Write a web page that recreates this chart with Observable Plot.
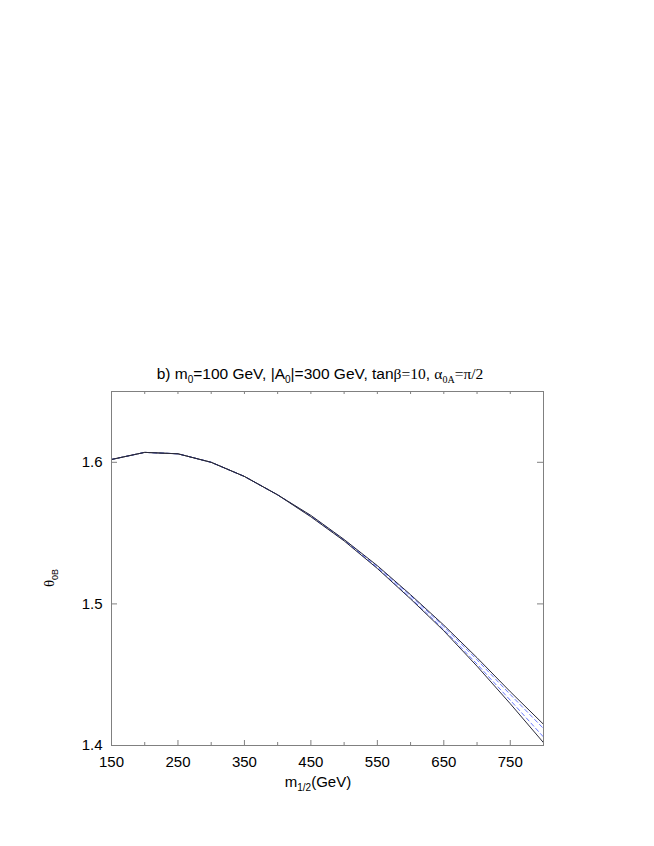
<!DOCTYPE html>
<html><head><meta charset="utf-8">
<script src="https://cdn.jsdelivr.net/npm/d3@7"></script>
<script src="https://cdn.jsdelivr.net/npm/@observablehq/plot@0.6"></script>
<style>body{margin:0;background:#fff;} svg{display:block}</style>
</head><body><div id="chart"></div>
<script>
const m12 = [150,200,250,300,350,400,450,500,550,600,650,700,750,800];
const solidUpper  = [1.602,1.607,1.606,1.600,1.590,1.577,1.5625,1.5455,1.5270,1.5065,1.4850,1.4620,1.4380,1.4150];
const dashedUpper = [1.602,1.607,1.606,1.600,1.590,1.577,1.5622,1.5452,1.5265,1.5058,1.4840,1.4605,1.4360,1.4120];
const dashedLower = [1.602,1.607,1.606,1.600,1.590,1.577,1.5618,1.5448,1.5255,1.5042,1.4820,1.4575,1.4320,1.4060];
const solidLower  = [1.602,1.607,1.606,1.600,1.590,1.577,1.5615,1.5445,1.5250,1.5035,1.4810,1.4560,1.4295,1.4020];
const xMajor = [150,250,350,450,550,650,750];
const xMinor = [200,300,400,500,600,700];
const yMajor = [1.4,1.5,1.6];

const W = 654, H = 846;
const mL = 111, mR = 111, mT = 391, mB = 846 - 745;
const fw = W - mL - mR, fh = H - mT - mB;

const rows = s => m12.map((x, i) => ({x, y: s[i]}));
const font = "Liberation Sans, Arial, Helvetica, sans-serif";

const chart = Plot.plot({
  width: W, height: H,
  marginLeft: mL, marginRight: mR, marginTop: mT, marginBottom: mB,
  style: {fontFamily: font, fontSize: "15px", background: "#fff", color: "#000"},
  x: {domain: [150, 800]},
  y: {domain: [1.4, 1.65]},
  marks: [
    Plot.axisX({ticks: xMajor, tickSize: 0, tickPadding: 11, label: null, fontSize: 15}),
    Plot.axisY({ticks: yMajor, tickSize: 0, tickPadding: 9, label: null, fontSize: 15, tickFormat: d3.format(".1f")}),
    // inward ticks
    Plot.ruleX(xMajor, {stroke: "#808080", insetTop: fh - 5}),
    Plot.ruleX(xMinor, {stroke: "#808080", insetTop: fh - 3}),
    Plot.ruleX(xMajor.concat(xMinor), {stroke: "#808080", insetBottom: fh - 3}),
    Plot.ruleY(yMajor, {stroke: "#808080", insetRight: fw - 6}),
    Plot.ruleY(yMajor, {stroke: "#808080", insetLeft: fw - 6}),
    Plot.line(rows(dashedUpper), {x: "x", y: "y", stroke: "#6b7bff", strokeWidth: 1, strokeDasharray: "4,3"}),
    Plot.line(rows(dashedLower), {x: "x", y: "y", stroke: "#6b7bff", strokeWidth: 1, strokeDasharray: "4,3"}),
    Plot.line(rows(solidUpper), {x: "x", y: "y", stroke: "#2a2a3a", strokeWidth: 1}),
    Plot.line(rows(solidLower), {x: "x", y: "y", stroke: "#2a2a3a", strokeWidth: 1}),
    Plot.frame({stroke: "#808080"})
  ]
});

const svg = d3.select(chart);
const serif = "Liberation Serif, Times New Roman, serif";

// Title
const t = svg.append("text").attr("x", 320).attr("y", 379).attr("text-anchor", "middle")
  .style("font-family", font).style("font-size", "15.5px").attr("fill", "#000");
const seg = (txt, opts = {}) => {
  const ts = t.append("tspan").text(txt);
  if (opts.sub) ts.attr("font-size", "10px").attr("dy", 4);
  if (opts.up) ts.attr("dy", -4);
  if (opts.serif) ts.style("font-family", serif);
  return ts;
};
seg("b) m");
seg("0", {sub: true});
seg("=100 GeV, |A", {up: true});
seg("0", {sub: true});
seg("|=300 GeV, tan", {up: true});
seg("β=10", {serif: true});
seg(", ");
seg("α", {serif: true});
seg("0A", {sub: true, serif: true});
seg("=π/2", {up: true, serif: true});

// X label
const xl = svg.append("text").attr("x", 318).attr("y", 787).attr("text-anchor", "middle")
  .style("font-family", font).style("font-size", "15px").attr("fill", "#000");
xl.append("tspan").text("m");
xl.append("tspan").text("1/2").attr("font-size", "10px").attr("dy", 4);
xl.append("tspan").text("(GeV)").attr("dy", -4);

// Y label
const yl = svg.append("text").attr("transform", "translate(54,578) rotate(-90)").attr("text-anchor", "middle")
  .style("font-family", font).style("font-size", "15px").attr("fill", "#000");
yl.append("tspan").text("θ").style("font-family", serif);
yl.append("tspan").text("0B").attr("font-size", "9px").attr("dy", 4);

document.getElementById("chart").appendChild(chart);
</script>
</body></html>
